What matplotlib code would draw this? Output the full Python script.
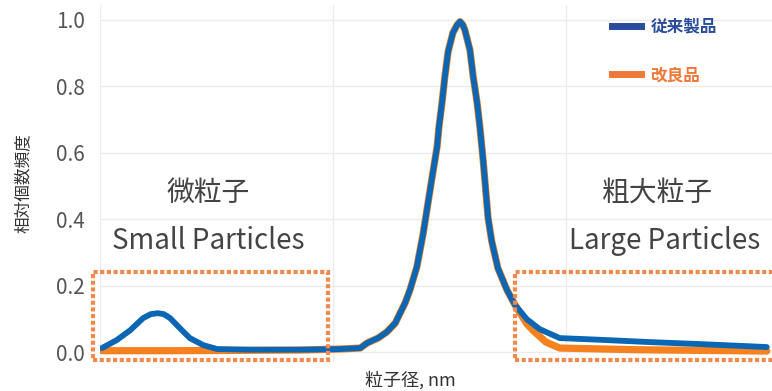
import numpy as np
import matplotlib
matplotlib.use("Agg")
import matplotlib.pyplot as plt
from matplotlib.patches import Rectangle
from matplotlib.lines import Line2D

plt.rcParams['font.family'] = ['Noto Sans CJK JP', 'DejaVu Sans']

# particle size (nm, log axis) and relative number frequency
size_old = [1.02, 1.18, 1.35, 1.53, 1.65, 1.77, 1.88, 2.00, 2.20, 2.43, 2.77, 3.18, 4.40,
            7.22, 10.7, 13.1, 14.0, 15.6, 17.0, 18.5, 19.4, 20.4, 21.4, 22.9, 24.4, 26.1,
            28.0, 28.5, 29.4, 30.2, 31.2, 32.7, 34.1, 35.1, 36.1, 36.8, 38.7, 40.0, 41.5,
            42.7, 44.1, 46.3, 48.0, 51.0, 55.8, 60.4, 67.9, 77.1, 94.0, 139, 228, 375, 727]
freq_old = [0.012, 0.036, 0.066, 0.102, 0.114, 0.117, 0.114, 0.102, 0.072, 0.042, 0.021,
            0.009, 0.007, 0.007, 0.009, 0.012, 0.027, 0.042, 0.060, 0.087, 0.117, 0.148,
            0.187, 0.256, 0.358, 0.488, 0.620, 0.678, 0.753, 0.828, 0.905, 0.961, 0.985,
            0.995, 0.985, 0.970, 0.910, 0.828, 0.753, 0.678, 0.578, 0.404, 0.334, 0.253,
            0.187, 0.142, 0.099, 0.069, 0.042, 0.037, 0.030, 0.024, 0.015]

size_new = [1.02, 2.0, 4.0, 7.22, 10.7, 13.1, 14.0, 15.6, 17.0, 18.5, 19.4, 20.4, 21.4,
            22.9, 24.4, 26.1, 28.0, 28.5, 29.4, 30.2, 31.2, 32.7, 34.1, 35.1, 36.1, 36.8,
            38.7, 40.0, 41.5, 42.7, 44.1, 46.3, 48.0, 51.0, 55.8, 60.4, 67.9, 72.0, 82.0,
            94.0, 200, 727]
freq_new = [0.004, 0.004, 0.005, 0.006, 0.009, 0.012, 0.027, 0.042, 0.060, 0.087, 0.117,
            0.148, 0.187, 0.256, 0.358, 0.488, 0.620, 0.678, 0.753, 0.828, 0.905, 0.961,
            0.985, 0.995, 0.985, 0.970, 0.910, 0.828, 0.753, 0.678, 0.578, 0.404, 0.334,
            0.253, 0.187, 0.142, 0.085, 0.066, 0.030, 0.012, 0.007, 0.003]

labels = ['従来製品', '改良品']
blue, orange = '#0b67b3', '#f5821f'
blue_leg, orange_leg = '#2a4c9c', '#f07838'
box_col = '#f4894e'

fig = plt.figure(figsize=(7.72, 3.91), dpi=100)
ax = fig.add_axes([100/772, 29/391, 672/772, 357/391])
ax.set_xscale('log')
ax.set_xlim(1, 766)
ax.set_ylim(-0.03, 1.045)

ax.plot(size_new, freq_new, color=orange, lw=5.2, solid_capstyle='round',
        solid_joinstyle='round', zorder=3)
ax.plot(size_old, freq_old, color=blue, lw=4.2, solid_capstyle='round',
        solid_joinstyle='round', zorder=4)

ax.set_yticks([0, 0.2, 0.4, 0.6, 0.8, 1.0])
ax.set_yticklabels(['0.0', '0.2', '0.4', '0.6', '0.8', '1.0'])
ax.set_xticks([1, 10, 100])
ax.xaxis.set_minor_locator(matplotlib.ticker.NullLocator())
ax.tick_params(axis='x', labelbottom=False, length=0)
ax.tick_params(axis='y', length=0, pad=11, labelsize=15, labelcolor='#555555')
ax.grid(True, color='#ececec', lw=1)
for s in ax.spines.values():
    s.set_visible(False)

ax.set_ylabel('相対個数頻度', fontsize=12, color='#333333')
ax.yaxis.set_label_coords(-0.101, 0.5)
fig.text(410/772, 1 - 371/391, '粒子径, nm', fontsize=13, color='#333333',
         ha='center', va='top')

# dotted boxes marking the small / large particle regions
for x0, x1 in [(0.933, 9.52), (60.4, 2000)]:
    ax.add_patch(Rectangle((x0, -0.024), x1 - x0, 0.265, fill=False, ec=box_col,
                           lw=3, linestyle=(0, (1, 0.6)), clip_on=False, zorder=5))

txt = dict(ha='center', va='center', color='#444444', fontsize=20)
fig.text(208/772, 1 - 193/391, '微粒子', **txt)
fig.text(208/772, 1 - 241/391, 'Small Particles', **txt)
fig.text(657/772, 1 - 193/391, '粗大粒子', **txt)
fig.text(665/772, 1 - 241/391, 'Large Particles', **txt)

handles = [Line2D([], [], color=blue_leg, lw=5), Line2D([], [], color=orange_leg, lw=5)]
leg = fig.legend(handles, labels, loc='upper left', bbox_to_anchor=(612/772, 1 - 18/391),
                 frameon=False, borderpad=0, borderaxespad=0, handlelength=1.75,
                 handletextpad=0.55, labelspacing=1.8,
                 prop={'size': 12, 'weight': 'bold'})
for t, c in zip(leg.get_texts(), [blue_leg, orange_leg]):
    t.set_color(c)

fig.savefig('out.png', dpi=100)
